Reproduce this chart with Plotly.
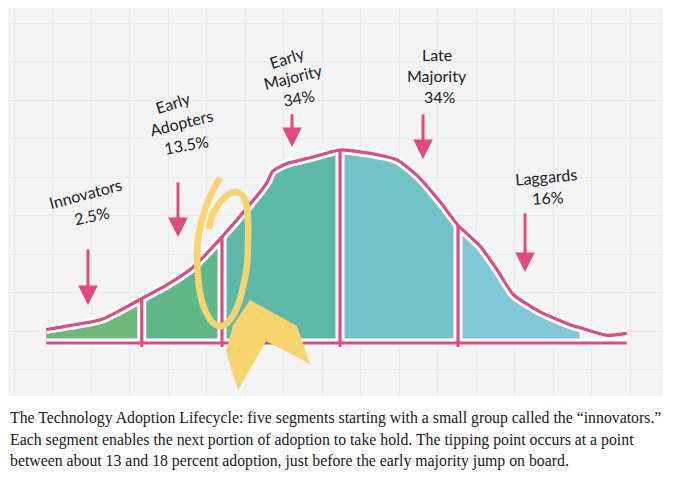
import plotly.graph_objects as go

# adoption curve, x in standard-deviation-like units, y relative height (peak = 1)
curve_x = [-2.49, -2.29, -2.03, -1.86, -1.68, -1.47, -1.25, -1.0, -0.76, -0.62, -0.57,
           -0.45, -0.25, 0.0, 0.17, 0.36, 0.48, 0.65, 0.85, 1.0, 1.19, 1.33, 1.47,
           1.70, 1.97, 2.03, 2.26, 2.43]
curve_y = [0.07, 0.09, 0.12, 0.17, 0.23, 0.30, 0.39, 0.55, 0.72, 0.83, 0.89,
           0.93, 0.96, 1.0, 0.99, 0.97, 0.95, 0.87, 0.73, 0.61, 0.50, 0.38, 0.25,
           0.16, 0.09, 0.08, 0.04, 0.05]

groups = ["Innovators", "Early<br>Adopters", "Early<br>Majority", "Late<br>Majority", "Laggards"]
shares = ["2.5%", "13.5%", "34%", "34%", "16%"]
bounds = [-2.49, -1.68, -1.0, 0.0, 1.0, 2.03]
colors = ["#6fb879", "#60b88a", "#5eb9a9", "#71c3c7", "#80c7da"]

PINK = "#e04a80"
YELLOW = "#f8d46f"
OFF = 8  # the page body has an 8px margin


# page px -> data, only used for labels and the hand drawn highlight
def to_xy(px, py):
    return (px - 340) / 118, (343 - py) / 193


fig = go.Figure()

# coloured segments
for i in range(5):
    xs = [x for x in curve_x if bounds[i] <= x <= bounds[i + 1]]
    ys = [curve_y[curve_x.index(x)] for x in xs]
    fig.add_trace(go.Scatter(
        x=xs + [bounds[i + 1], bounds[i]], y=ys + [0, 0],
        fill="toself", fillcolor=colors[i], mode="lines", line=dict(width=0),
        hoverinfo="skip", showlegend=False))

# dividers + baseline
div_x, div_y = [], []
for b in bounds[1:5]:
    div_x += [b, b, None]
    div_y += [-0.02, curve_y[curve_x.index(b)], None]
div_x += [curve_x[0], curve_x[-1]]
div_y += [0, 0]

for w, c in [(9, "white"), (3.2, PINK)]:
    fig.add_trace(go.Scatter(x=div_x, y=div_y, mode="lines", line=dict(color=c, width=w),
                             hoverinfo="skip", showlegend=False))
    fig.add_trace(go.Scatter(x=curve_x, y=curve_y, mode="lines",
                             line=dict(color=c, width=w, shape="spline", smoothing=0.6),
                             hoverinfo="skip", showlegend=False))

# yellow ribbon and loop (tipping point)
ribbon = [to_xy(*p) for p in [(250, 300), (297, 326), (310, 364), (266, 341),
                              (238, 390), (226, 352), (233, 325)]]
path = "M " + " L ".join(f"{x:.4f},{y:.4f}" for x, y in ribbon) + " Z"
fig.add_shape(type="path", path=path, xref="x", yref="y", fillcolor=YELLOW,
              line=dict(width=0), layer="above")
loop = [to_xy(*p) for p in [(220, 178), (212, 192), (205, 210), (199, 232), (197, 253),
                            (198, 275), (200, 293), (205, 310), (213, 323), (222, 326),
                            (230, 320), (238, 305), (243, 287), (247, 265), (248, 243),
                            (248, 220), (246, 203), (242, 195), (236, 192), (229, 194),
                            (222, 200), (216, 208), (212, 216), (209, 229)]]
fig.add_trace(go.Scatter(x=[p[0] for p in loop], y=[p[1] for p in loop], mode="lines",
                         line=dict(color=YELLOW, width=6.5, shape="spline"),
                         hoverinfo="skip", showlegend=False))

# hand written labels
label_font = dict(family="Lato", size=16, color="#222222")
labels = [
    ("Innovators", 85, 193, -15), ("2.5%", 91, 215, -12),
    ("Early", 173, 102, -18), ("Adopters", 181, 122, -14), ("13.5%", 186, 144, -10),
    ("Early", 287, 57, -18), ("Majority", 293, 76, -14), ("34%", 299, 97, -10),
    ("Late", 437, 54, 0), ("Majority", 437, 75, 0), ("34%", 440, 96, 0),
    ("Laggards", 546, 176, -5), ("16%", 548, 197, -3),
]
for txt, px, py, ang in labels:
    x, y = to_xy(px, py)
    fig.add_annotation(x=x, y=y, text=txt, showarrow=False, textangle=ang, font=label_font)

# pink arrows (tip, length in px)
arrows = [(88, 305, 57), (178, 237, 56), (292, 147, 34), (423, 159, 46), (525, 272, 60)]
for px, py, ln in arrows:
    x, y = to_xy(px, py)
    fig.add_annotation(x=x, y=y, ax=0, ay=-ln, text="", showarrow=True,
                       arrowhead=2, arrowsize=1.3, arrowwidth=3, arrowcolor=PINK)

# caption
caption = [
    "The Technology Adoption Lifecycle: five segments starting with a small group called the \u201cinnovators.\u201d",
    "Each segment enables the next portion of adoption to take hold. The tipping point occurs at a point",
    "between about 13 and 18 percent adoption, just before the early majority jump on board.",
]
W, H = 680, 487
for i, line in enumerate(caption):
    fig.add_annotation(x=(8 - OFF) / W, y=1 - (418 + 21.5 * i - OFF) / H, xref="paper", yref="paper",
                       xanchor="left", yanchor="middle", text=line, showarrow=False,
                       font=dict(family="Liberation Serif", size=15.8, color="#1a1a1a"))

fig.update_layout(
    width=W, height=H,
    margin=dict(l=0, r=0, t=0, b=0),
    paper_bgcolor="white", plot_bgcolor="#f4f4f5",
    xaxis=dict(domain=[(8 - OFF) / W, (663 - OFF) / W], range=[(8 - 340) / 118, (663 - 340) / 118],
               showgrid=True, gridcolor="#e9ebed", gridwidth=1, dtick=38.5 / 118,
               tick0=(553 - 340) / 118, showticklabels=False, zeroline=False, showline=False,
               ticks=""),
    yaxis=dict(domain=[1 - (396 - OFF) / H, 1 - (8 - OFF) / H], range=[(343 - 396) / 193, (343 - 8) / 193],
               showgrid=True, gridcolor="#e9ebed", gridwidth=1, dtick=38.5 / 193,
               tick0=(343 - 23) / 193, showticklabels=False, zeroline=False, showline=False,
               ticks=""),
)

fig.write_html("out.html")
